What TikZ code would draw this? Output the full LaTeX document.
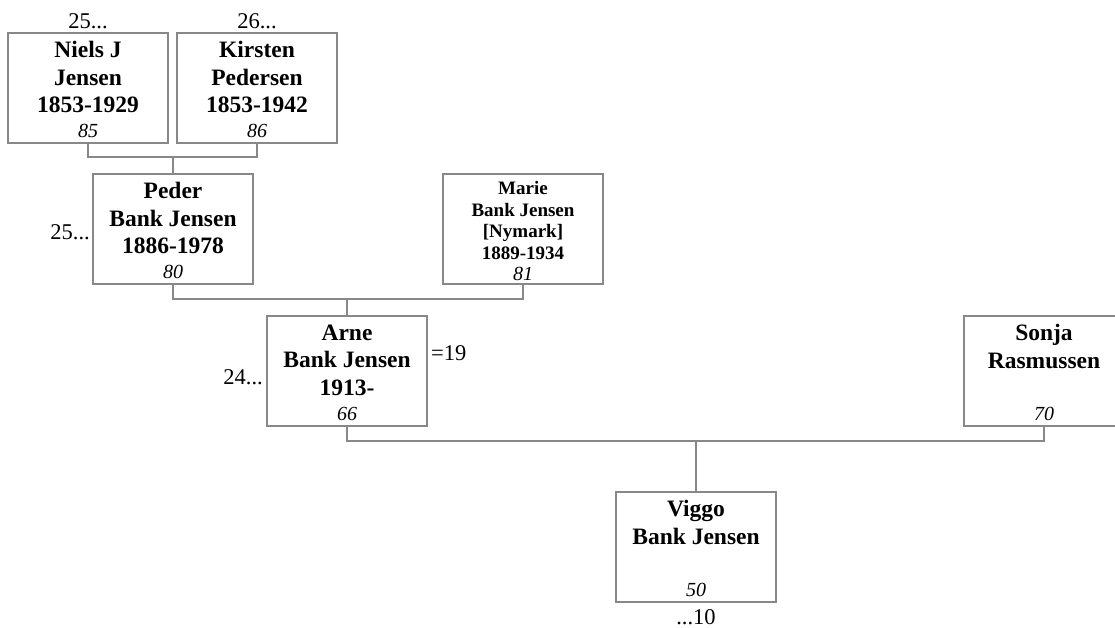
\documentclass[tikz,border=0pt]{standalone}
\usepackage{fontspec}
\setmainfont{Liberation Serif}
\usetikzlibrary{positioning}
\definecolor{boxgray}{RGB}{136,136,136}

\begin{document}
\begin{tikzpicture}[x=1pt,y=-1pt,
  person/.style={draw=boxgray,line width=1.2pt,minimum width=160pt,minimum height=110pt,inner sep=0pt},
  who/.style={anchor=north,align=center,inner sep=0pt,font=\bfseries\fontsize{23.5}{27.5}\selectfont},
  whosmall/.style={anchor=north,align=center,inner sep=0pt,font=\bfseries\fontsize{19}{21.5}\selectfont},
  num/.style={anchor=base,inner sep=0pt,font=\itshape\fontsize{20}{22}\selectfont},
  tag/.style={inner sep=0pt,font=\fontsize{22.5}{25}\selectfont},
  link/.style={draw=boxgray,line width=1.2pt}]
 \useasboundingbox (0,0) rectangle (1115,627);
 % persons
 \node[person] (niels) at (88,88) {};
 \node[person] (kirsten) at (257,88) {};
 \node[person] (peder) at (173,229) {};
 \node[person] (marie) at (523,229) {};
 \node[person] (arne) at (347,371) {};
 \node[person] (sonja) at (1044,371) {};
 \node[person] (viggo) at (696,547) {};
 % names
 \node[who] (niels-who) at ([yshift=-9pt]niels.north) {Niels J\\Jensen\\1853-1929};
 \node[who] (kirsten-who) at ([yshift=-9pt]kirsten.north) {Kirsten\\Pedersen\\1853-1942};
 \node[who] (peder-who) at ([yshift=-9pt]peder.north) {Peder\\Bank Jensen\\1886-1978};
 \node[whosmall] (marie-who) at ([yshift=-8pt]marie.north) {Marie\\Bank Jensen\\{[Nymark]}\\1889-1934};
 \node[who] (arne-who) at ([yshift=-9pt]arne.north) {Arne\\Bank Jensen\\1913-};
 \node[who] (sonja-who) at ([yshift=-9pt]sonja.north) {Sonja\\Rasmussen};
 \node[who] (viggo-who) at ([yshift=-9pt]viggo.north) {Viggo\\Bank Jensen};
 % numbers
 \node[num] (niels-num) at ([yshift=6pt]niels.south) {85};
 \node[num] (kirsten-num) at ([yshift=6pt]kirsten.south) {86};
 \node[num] (peder-num) at ([yshift=6pt]peder.south) {80};
 \node[num] (marie-num) at ([yshift=4pt]marie.south) {81};
 \node[num] (arne-num) at ([yshift=6pt]arne.south) {66};
 \node[num] (sonja-num) at ([yshift=6pt]sonja.south) {70};
 \node[num] (viggo-num) at ([yshift=6pt]viggo.south) {50};
 % side labels
 \node[tag] (niels-up) at (88,21) {25...};
 \node[tag] (kirsten-up) at (257,21) {26...};
 \node[tag,anchor=east] (peder-up) at (90,232) {25...};
 \node[tag,anchor=east] (arne-up) at (263,377) {24...};
 \node[tag,anchor=west] (arne-eq) at (431,353) {=19};
 \node[tag] (viggo-down) at (696,617) {...10};
 % families
 \coordinate (fam1) at (173,157);
 \coordinate (fam2) at (347,299);
 \coordinate (fam3) at (696,441);
 \draw[link] (niels.south) |- (fam1) -| (kirsten.south);
 \draw[link] (fam1) -- (peder.north);
 \draw[link] (peder.south) |- (fam2) -| (marie.south);
 \draw[link] (fam2) -- (arne.north);
 \draw[link] (arne.south) |- (fam3) -| (sonja.south);
 \draw[link] (fam3) -- (viggo.north);
\end{tikzpicture}
\end{document}
